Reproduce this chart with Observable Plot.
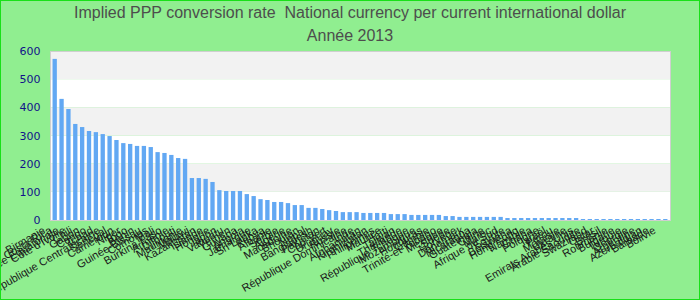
<!DOCTYPE html>
<html><head><meta charset="utf-8">
<script src="https://cdn.jsdelivr.net/npm/d3@7"></script>
<script src="https://cdn.jsdelivr.net/npm/@observablehq/plot@0.6"></script>
<style>
html,body{margin:0;padding:0;background:#90ee90;}
#wrap{position:relative;width:700px;height:300px;background:#90ee90;overflow:hidden;}
#title{height:44px;text-align:center;font:16px "Liberation Sans",Arial,sans-serif;color:#4d4d4d;line-height:23px;padding-top:1px;box-sizing:border-box;white-space:pre;}
#border{position:absolute;left:0;top:0;width:700px;height:300px;box-sizing:border-box;border:1px solid #18e018;pointer-events:none;}
svg{display:block;}
</style></head>
<body><div id="wrap"><div id="title"><div>Implied PPP conversion rate  National currency per current international dollar</div><div>Année 2013</div></div><div id="chart"></div><div id="border"></div></div>
<script>
const countries = [
 "Birmanie","Costa Rica","Guinée Équatoriale","Côte d'Ivoire","Chili","Gabon","Congo","Tchad","République Centrafricaine","Sénégal",
 "Cameroun","Niger","Togo","Bénin","Guinée-Bissau","Comores","Mali","Burkina Faso","Arménie","Djibouti",
 "Mauritanie","Malawi","Kazakhstan","Islande","Hongrie","Japon","Vanuatu","Yémen","Guyana","Angola",
 "Jamaïque","Sri Lanka","Kenya","Albanie","Serbie","Algérie","Macédoine","Bhoutan","Népal","Bangladesh",
 "Pakistan","Cap-Vert","Uruguay","Russie","République Dominicaine","Inde","Afghanistan","Kirghizistan","Philippines","Maurice",
 "Haïti","Taïwan","Thaïlande","République Tchèque","Mozambique","Honduras","Gambie","Trinité-et-Tobago","Mexique","Suède",
 "Norvège","Danemark","Nicaragua","Guatemala","Chine","Maroc","Afrique du Sud","Égypte","Botswana","Hong Kong",
 "Namibie","Ghana","Pologne","Israël","Pérou","Malaisie","Ukraine","Emirats Arabes Unis","Arabie Saoudite","Swaziland",
 "Qatar","Brésil","Roumanie","Bulgarie","Turquie","Géorgie","Argentine","Azerbaïdjan","Barbade","Bolivie"
];
const values = [
 572,430,394,341,330,316,312,305,298,284,
 273,270,263,263,259,241,238,231,220,217,
 149,149,146,135,106,103,103,103,92,85,
 74,71,64,64,60,53,53,43,43,39,
 35,32,28,28,28,25,25,25,25,21,
 21,21,18,18,18,18,18,14,14,11,
 11,11,11,11,11,11,7,7,7,7,
 7,7,7,7,7,7,7,3.5,3.5,3.5,
 3.5,3.5,3.5,3.5,3.5,3.5,3.5,3.5,3.5,3.5
];
const yTicks = [0,100,200,300,400,500,600];

const data = countries.map((c,i)=>({country:c, value:values[i]}));
const bandsData = d3.pairs(yTicks).map(([a,b],i)=>({y1:a,y2:b,i}));

const chart = Plot.plot({
  width:700, height:256,
  marginTop:7, marginBottom:80, marginLeft:50, marginRight:30,
  style:{background:"transparent", overflow:"visible"},
  x:{domain:countries, padding:0.37, label:null},
  y:{domain:[0,600], ticks:yTicks, label:null},
  marks:[
    Plot.rect(bandsData.filter(d=>d.i%2===0), {y1:"y1", y2:"y2", fill:"#ffffff"}),
    Plot.rect(bandsData.filter(d=>d.i%2===1), {y1:"y1", y2:"y2", fill:"#f2f2f2"}),
    Plot.barY(data, {x:"country", y:"value", fill:"#62a8f3"}),
    Plot.frame({stroke:"#cfcfcf"}),
    Plot.axisY({ticks:yTicks, tickSize:0, tickPadding:10, fontSize:11, fill:"#12128a", fontFamily:"DejaVu Sans", label:null}),
    Plot.axisX({tickSize:0, tickRotate:-30, fontSize:11, fill:"#1a1a1a", fontFamily:"Liberation Sans, Arial, sans-serif", tickPadding:9, dx:-11, label:null})
  ]
});
document.getElementById("chart").appendChild(chart);
</script>
</body></html>
